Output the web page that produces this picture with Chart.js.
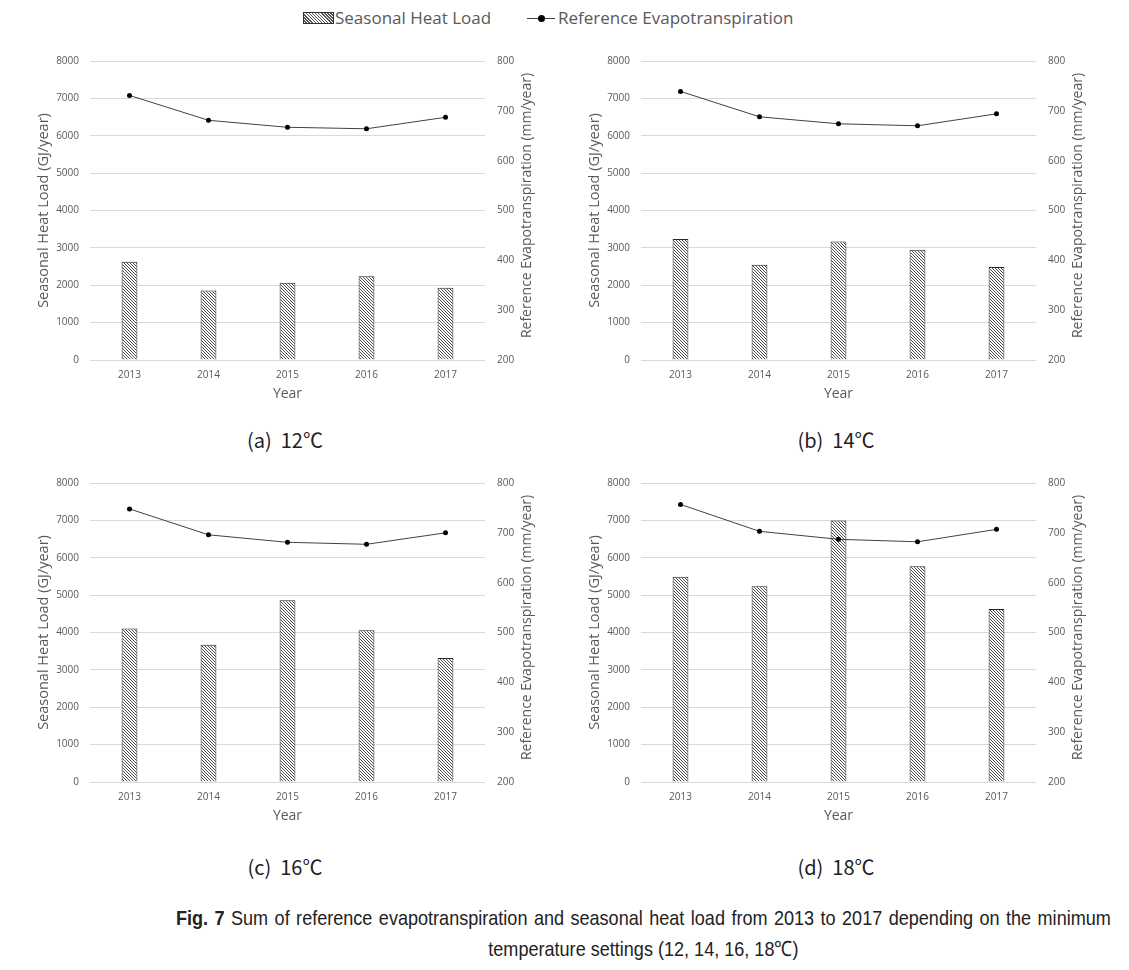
<!DOCTYPE html>
<html>
<head>
<meta charset="utf-8">
<script src="https://cdn.jsdelivr.net/npm/chart.js@4.4.1/dist/chart.umd.min.js"></script>
<style>
  body { margin: 0; background: #fff; width: 1129px; height: 970px; position: relative; overflow: hidden; }
  .box { position: absolute; width: 510px; height: 367px; }
  .legend { position: absolute; top: 6px; font: 17px 'Open Sans', sans-serif; color: #595959; white-space: nowrap; }
  .swatch { position: absolute; width: 29px; height: 10px; border: 1px solid #333;
            background: repeating-linear-gradient(45deg, #fff 0 1.2px, #555 1.2px 2.2px); }
  .cap { position: absolute; width: 300px; text-align: center; font: 20px 'Noto Sans CJK KR', sans-serif; color: #222; }
  .fig { position: absolute; left: 176px; width: 1087px; transform: scaleX(0.86); transform-origin: 0 0;
         font: 21px 'Liberation Sans', sans-serif; color: #222; white-space: nowrap; }
</style>
</head>
<body>
<div class="swatch" style="left:303px; top:12px;"></div>
<div class="legend" style="left:335px;">Seasonal Heat Load</div>
<div style="position:absolute; left:527px; top:18px; width:28px; height:1px; background:#404040;"></div>
<div style="position:absolute; left:538px; top:15px; width:7px; height:7px; border-radius:50%; background:#000;"></div>
<div class="legend" style="left:558px;">Reference Evapotranspiration</div>

<div class="box" style="left:30px; top:43px;"><canvas id="c12"></canvas></div>
<div class="box" style="left:581px; top:43px;"><canvas id="c14"></canvas></div>
<div class="box" style="left:30px; top:465px;"><canvas id="c16"></canvas></div>
<div class="box" style="left:581px; top:465px;"><canvas id="c18"></canvas></div>

<div class="cap" style="left:135px; top:425px;">(a)&nbsp; 12℃</div>
<div class="cap" style="left:686px; top:425px;">(b)&nbsp; 14℃</div>
<div class="cap" style="left:135px; top:852px;">(c)&nbsp; 16℃</div>
<div class="cap" style="left:686px; top:852px;">(d)&nbsp; 18℃</div>

<div class="fig" style="top:906px; text-align:justify; text-align-last:justify; white-space:normal;"><b>Fig. 7</b> Sum of reference evapotranspiration and seasonal heat load from 2013 to 2017 depending on the minimum</div>
<div class="fig" style="top:934px; text-align:center;">temperature settings (12, 14, 16, 18℃)</div>

<script>
'use strict';

// ─── Datos ────────────────────────────────────────────────────────────────────
const YEARS = ['2013', '2014', '2015', '2016', '2017'];

const HEAT_12 = [2630, 1860, 2070, 2240, 1930];
const HEAT_14 = [3240, 2550, 3170, 2950, 2490];
const HEAT_16 = [4110, 3670, 4860, 4060, 3320];
const HEAT_18 = [5490, 5240, 7000, 5770, 4630];

const ET_12 = [731, 681, 667, 664, 687];
const ET_14 = [739, 688, 674, 670, 694];
const ET_16 = [748, 696, 681, 677, 700];
const ET_18 = [757, 703, 687, 682, 707];

const HEAT_TICKS = [0, 1000, 2000, 3000, 4000, 5000, 6000, 7000, 8000];
const ET_TICKS   = [200, 300, 400, 500, 600, 700, 800];

const GREY = '#595959';
const FONT = "'Open Sans', sans-serif";

// ─── Trama diagonal de las barras ────────────────────────────────────────────
function trama(ctx) {
    const c = document.createElement('canvas');
    c.width = c.height = 3;
    const g = c.getContext('2d');
    g.fillStyle = '#fff';
    g.fillRect(0, 0, 3, 3);
    g.fillStyle = '#4a4a4a';
    for (let i = 0; i < 3; i++) g.fillRect(i, i, 1, 1);
    return ctx.createPattern(c, 'repeat');
}

// título del eje derecho, leído de abajo arriba como en Excel
const tituloDerecho = {
    id: 'tituloDerecho',
    afterDraw(chart) {
        const a = chart.chartArea;
        const ctx = chart.ctx;
        ctx.save();
        ctx.translate(a.right + 42, (a.top + a.bottom) / 2 - 5);
        ctx.rotate(-Math.PI / 2);
        ctx.font = '14px ' + FONT;
        ctx.fillStyle = GREY;
        ctx.textAlign = 'center';
        ctx.textBaseline = 'middle';
        ctx.fillText('Reference Evapotranspiration (mm/year)', 0, 0);
        ctx.restore();
    },
};

const sinComas = function (v) { return String(v); };

function grafico(id, heat, et) {
    const ctx = document.getElementById(id).getContext('2d');
    return new Chart(ctx, {
        data: {
            labels: YEARS,
            datasets: [{
                type: 'line',
                label: 'Reference Evapotranspiration',
                data: et,
                yAxisID: 'y1',
                order: 0,
                borderColor: '#404040',
                borderWidth: 1,
                pointRadius: 2.5,
                pointBackgroundColor: '#000',
                pointBorderWidth: 0,
                tension: 0,
            }, {
                type: 'bar',
                label: 'Seasonal Heat Load',
                data: heat,
                yAxisID: 'y',
                order: 1,
                backgroundColor: trama(ctx),
                borderColor: '#262626',
                borderWidth: 1,
                barPercentage: 0.8,
                categoryPercentage: 0.25,
            }],
        },
        options: {
            responsive: true,
            maintainAspectRatio: false,
            animation: false,
            // el margen superior lo fija la etiqueta del eje (~17 px), la caja ya se ha subido 7 px
            layout: { padding: 0 },
            plugins: { legend: { display: false }, tooltip: { enabled: false } },
            scales: {
                x: {
                    grid: { display: false, drawTicks: false },
                    border: { display: false },
                    ticks: { color: GREY, font: { family: FONT, size: 10 }, padding: 9 },
                    title: { display: true, text: 'Year', color: GREY, font: { family: FONT, size: 14 }, padding: { top: 0, bottom: 8 } },
                    afterFit(s) { s.height = 50; },
                },
                y: {
                    position: 'left',
                    min: HEAT_TICKS[0],
                    max: HEAT_TICKS[HEAT_TICKS.length - 1],
                    ticks: { stepSize: HEAT_TICKS[1] - HEAT_TICKS[0], color: GREY, font: { family: FONT, size: 10 }, padding: 11, callback: sinComas },
                    grid: { color: '#d9d9d9', drawTicks: false },
                    border: { display: false },
                    title: { display: true, text: 'Seasonal Heat Load (GJ/year)', color: GREY, font: { family: FONT, size: 14.5 }, padding: { top: 5, bottom: 0 } },
                    afterFit(s) { s.width = 60; },
                },
                y1: {
                    position: 'right',
                    min: ET_TICKS[0],
                    max: ET_TICKS[ET_TICKS.length - 1],
                    ticks: { stepSize: ET_TICKS[1] - ET_TICKS[0], color: GREY, font: { family: FONT, size: 10 }, padding: 12, callback: sinComas },
                    grid: { display: false, drawTicks: false },
                    border: { display: false },
                    afterFit(s) { s.width = 55; },
                },
            },
        },
        plugins: [tituloDerecho],
    });
}

grafico('c12', HEAT_12, ET_12);
grafico('c14', HEAT_14, ET_14);
grafico('c16', HEAT_16, ET_16);
grafico('c18', HEAT_18, ET_18);
</script>
</body>
</html>
